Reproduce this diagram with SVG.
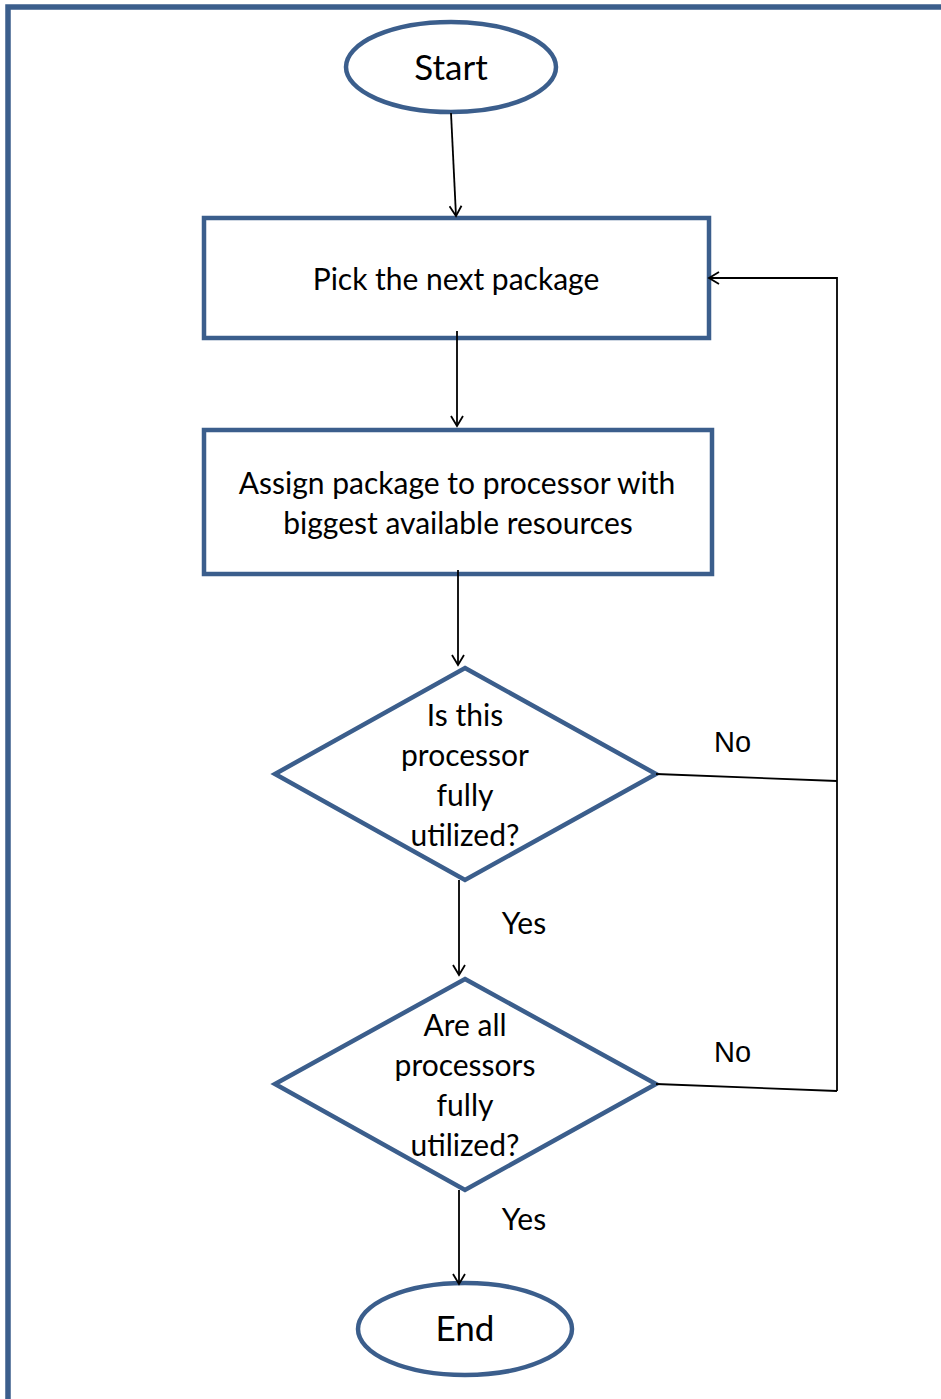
<svg xmlns="http://www.w3.org/2000/svg" width="941" height="1399" viewBox="0 0 941 1399">
<style>
.shape{fill:#fff;stroke:#3b5e8c;stroke-width:4.5}
.lbl{font-family:Lato,"Open Sans","Liberation Sans",sans-serif;font-size:30px;fill:#000;text-anchor:middle}
.term{font-size:35px}
.no{font-family:"Liberation Sans",Arial,sans-serif;font-size:29px;fill:#000}
.con{fill:none;stroke:#000;stroke-width:1.8}
</style>
<defs>
<marker id="arr" markerWidth="14" markerHeight="14" refX="12" refY="7" orient="auto" markerUnits="userSpaceOnUse">
<path d="M2,1 L12,7 L2,13" fill="none" stroke="#000" stroke-width="1.8"/>
</marker>
</defs>
<rect x="8" y="7" width="960" height="1420" fill="none" stroke="#3b5e8c" stroke-width="5.5"/>
<g id="start">
<ellipse class="shape" cx="451" cy="67" rx="105" ry="45"/>
<text class="lbl term" x="451" y="80">Start</text>
</g>
<g id="pick">
<rect class="shape" x="204" y="218" width="505" height="120"/>
<text class="lbl" x="456" y="290">Pick the next package</text>
</g>
<g id="assign">
<rect class="shape" x="204" y="430" width="508" height="144"/>
<text class="lbl" x="457" y="494">Assign package to processor with</text>
<text class="lbl" x="458" y="534">biggest available resources</text>
</g>
<g id="decision1">
<polygon class="shape" points="465,668 656,774 465,880 275,774"/>
<text class="lbl" x="465" y="726">Is this</text>
<text class="lbl" x="465" y="766">processor</text>
<text class="lbl" x="465" y="806">fully</text>
<text class="lbl" x="465" y="846">utilized?</text>
</g>
<g id="decision2">
<polygon class="shape" points="465,979 656,1084 465,1190 275,1084"/>
<text class="lbl" x="465" y="1036">Are all</text>
<text class="lbl" x="465" y="1076">processors</text>
<text class="lbl" x="465" y="1116">fully</text>
<text class="lbl" x="465" y="1156">utilized?</text>
</g>
<g id="end">
<ellipse class="shape" cx="465" cy="1329" rx="107" ry="46"/>
<text class="lbl term" x="465" y="1341">End</text>
</g>
<g id="connectors">
<path class="con" d="M451,113 L456,216" marker-end="url(#arr)"/>
<path class="con" d="M457,331 L457,426" marker-end="url(#arr)"/>
<path class="con" d="M458,570 L458,665" marker-end="url(#arr)"/>
<path class="con" d="M459,880 L459,975" marker-end="url(#arr)"/>
<path class="con" d="M459,1190 L459,1284" marker-end="url(#arr)"/>
<path class="con" d="M656,774 L837,781"/>
<path class="con" d="M656,1084 L837,1091"/>
<path class="con" d="M837,1091 L837,277"/>
<path class="con" d="M837,278 L709,278" marker-end="url(#arr)"/>
</g>
<g id="labels">
<text class="lbl" x="524" y="934">Yes</text>
<text class="lbl" x="524" y="1230">Yes</text>
<text class="no" x="714" y="752">No</text>
<text class="no" x="714" y="1062">No</text>
</g>
</svg>
